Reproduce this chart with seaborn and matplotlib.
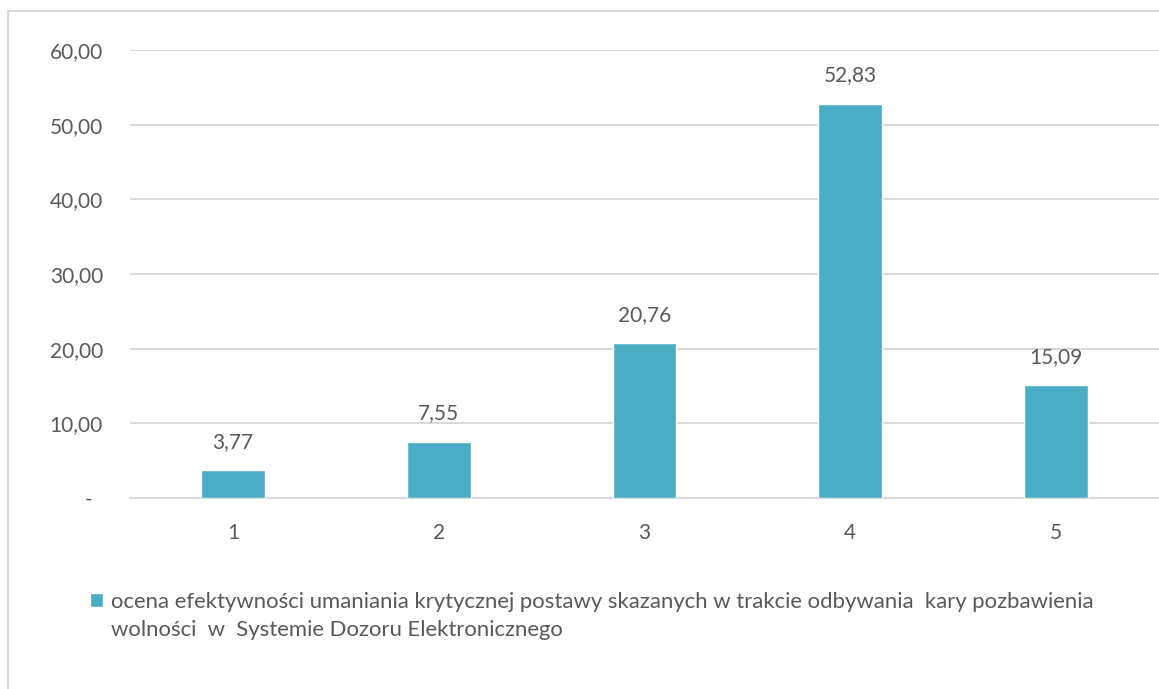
import pandas as pd
import seaborn as sns
import matplotlib.pyplot as plt
from matplotlib.patches import Rectangle

categories = ['1', '2', '3', '4', '5']
values = [3.77, 7.55, 20.76, 52.83, 15.09]
y_ticks = [0, 10, 20, 30, 40, 50, 60]
y_tick_labels = ['-  ', '10,00', '20,00', '30,00', '40,00', '50,00', '60,00']
legend_line1 = 'ocena efektywności umaniania krytycznej postawy skazanych w trakcie odbywania  kary pozbawienia'
legend_line2 = 'wolności  w  Systemie Dozoru Elektronicznego'

bar_color = '#4BACC6'
text_color = '#595959'
grid_color = '#D9D9D9'

sns.set_theme(style='white')
plt.rcParams['font.family'] = ['Lato', 'DejaVu Sans']

df = pd.DataFrame({'kat': categories, 'wartosc': values})

fig = plt.figure(figsize=(11.59, 6.89), dpi=100)
ax = fig.add_axes([130 / 1159, 1 - 498 / 689, 1 - 130 / 1159, 448 / 689])

sns.barplot(data=df, x='kat', y='wartosc', color=bar_color, width=0.31,
            saturation=1, ax=ax, label=legend_line1, zorder=3)

ax.set_ylim(0, 60)
ax.set_xlim(-0.5, 4.5)
ax.set_yticks(y_ticks)
ax.set_yticklabels(y_tick_labels)
ax.set_xlabel('')
ax.set_ylabel('')
ax.tick_params(axis='both', length=0, labelsize=15, labelcolor=text_color)
ax.tick_params(axis='y', pad=19.5)
ax.tick_params(axis='x', pad=18)
ax.yaxis.grid(True, color=grid_color, linewidth=1.5)
ax.set_axisbelow(True)
for side in ['left', 'right', 'top']:
    ax.spines[side].set_visible(False)
ax.spines['bottom'].set_color(grid_color)
ax.spines['bottom'].set_linewidth(1.5)

labels = [f'{v:.2f}'.replace('.', ',') for v in values]
ax.bar_label(ax.containers[0], labels=labels, padding=13, fontsize=15, color=text_color)

leg = fig.legend(loc='upper left', bbox_to_anchor=(90 / 1159, 1 - 592 / 689),
                 frameon=False, fontsize=15.9, labelcolor=text_color,
                 handlelength=0.6, handleheight=0.6, handletextpad=0.35,
                 borderpad=0, borderaxespad=0)
if ax.get_legend():
    ax.get_legend().remove()

fig.canvas.draw()
bb = leg.get_texts()[0].get_window_extent()
fig.text(bb.x0 / fig.bbox.width, (bb.y0 - 28) / fig.bbox.height, legend_line2,
         fontsize=15.9, color=text_color, ha='left', va='bottom')

fig.patches.append(Rectangle((8 / 1159, -0.1), 1.2, 1.1 - 11 / 689,
                             transform=fig.transFigure, fill=False,
                             edgecolor=grid_color, linewidth=1.5))

fig.savefig('out.png', dpi=100)
